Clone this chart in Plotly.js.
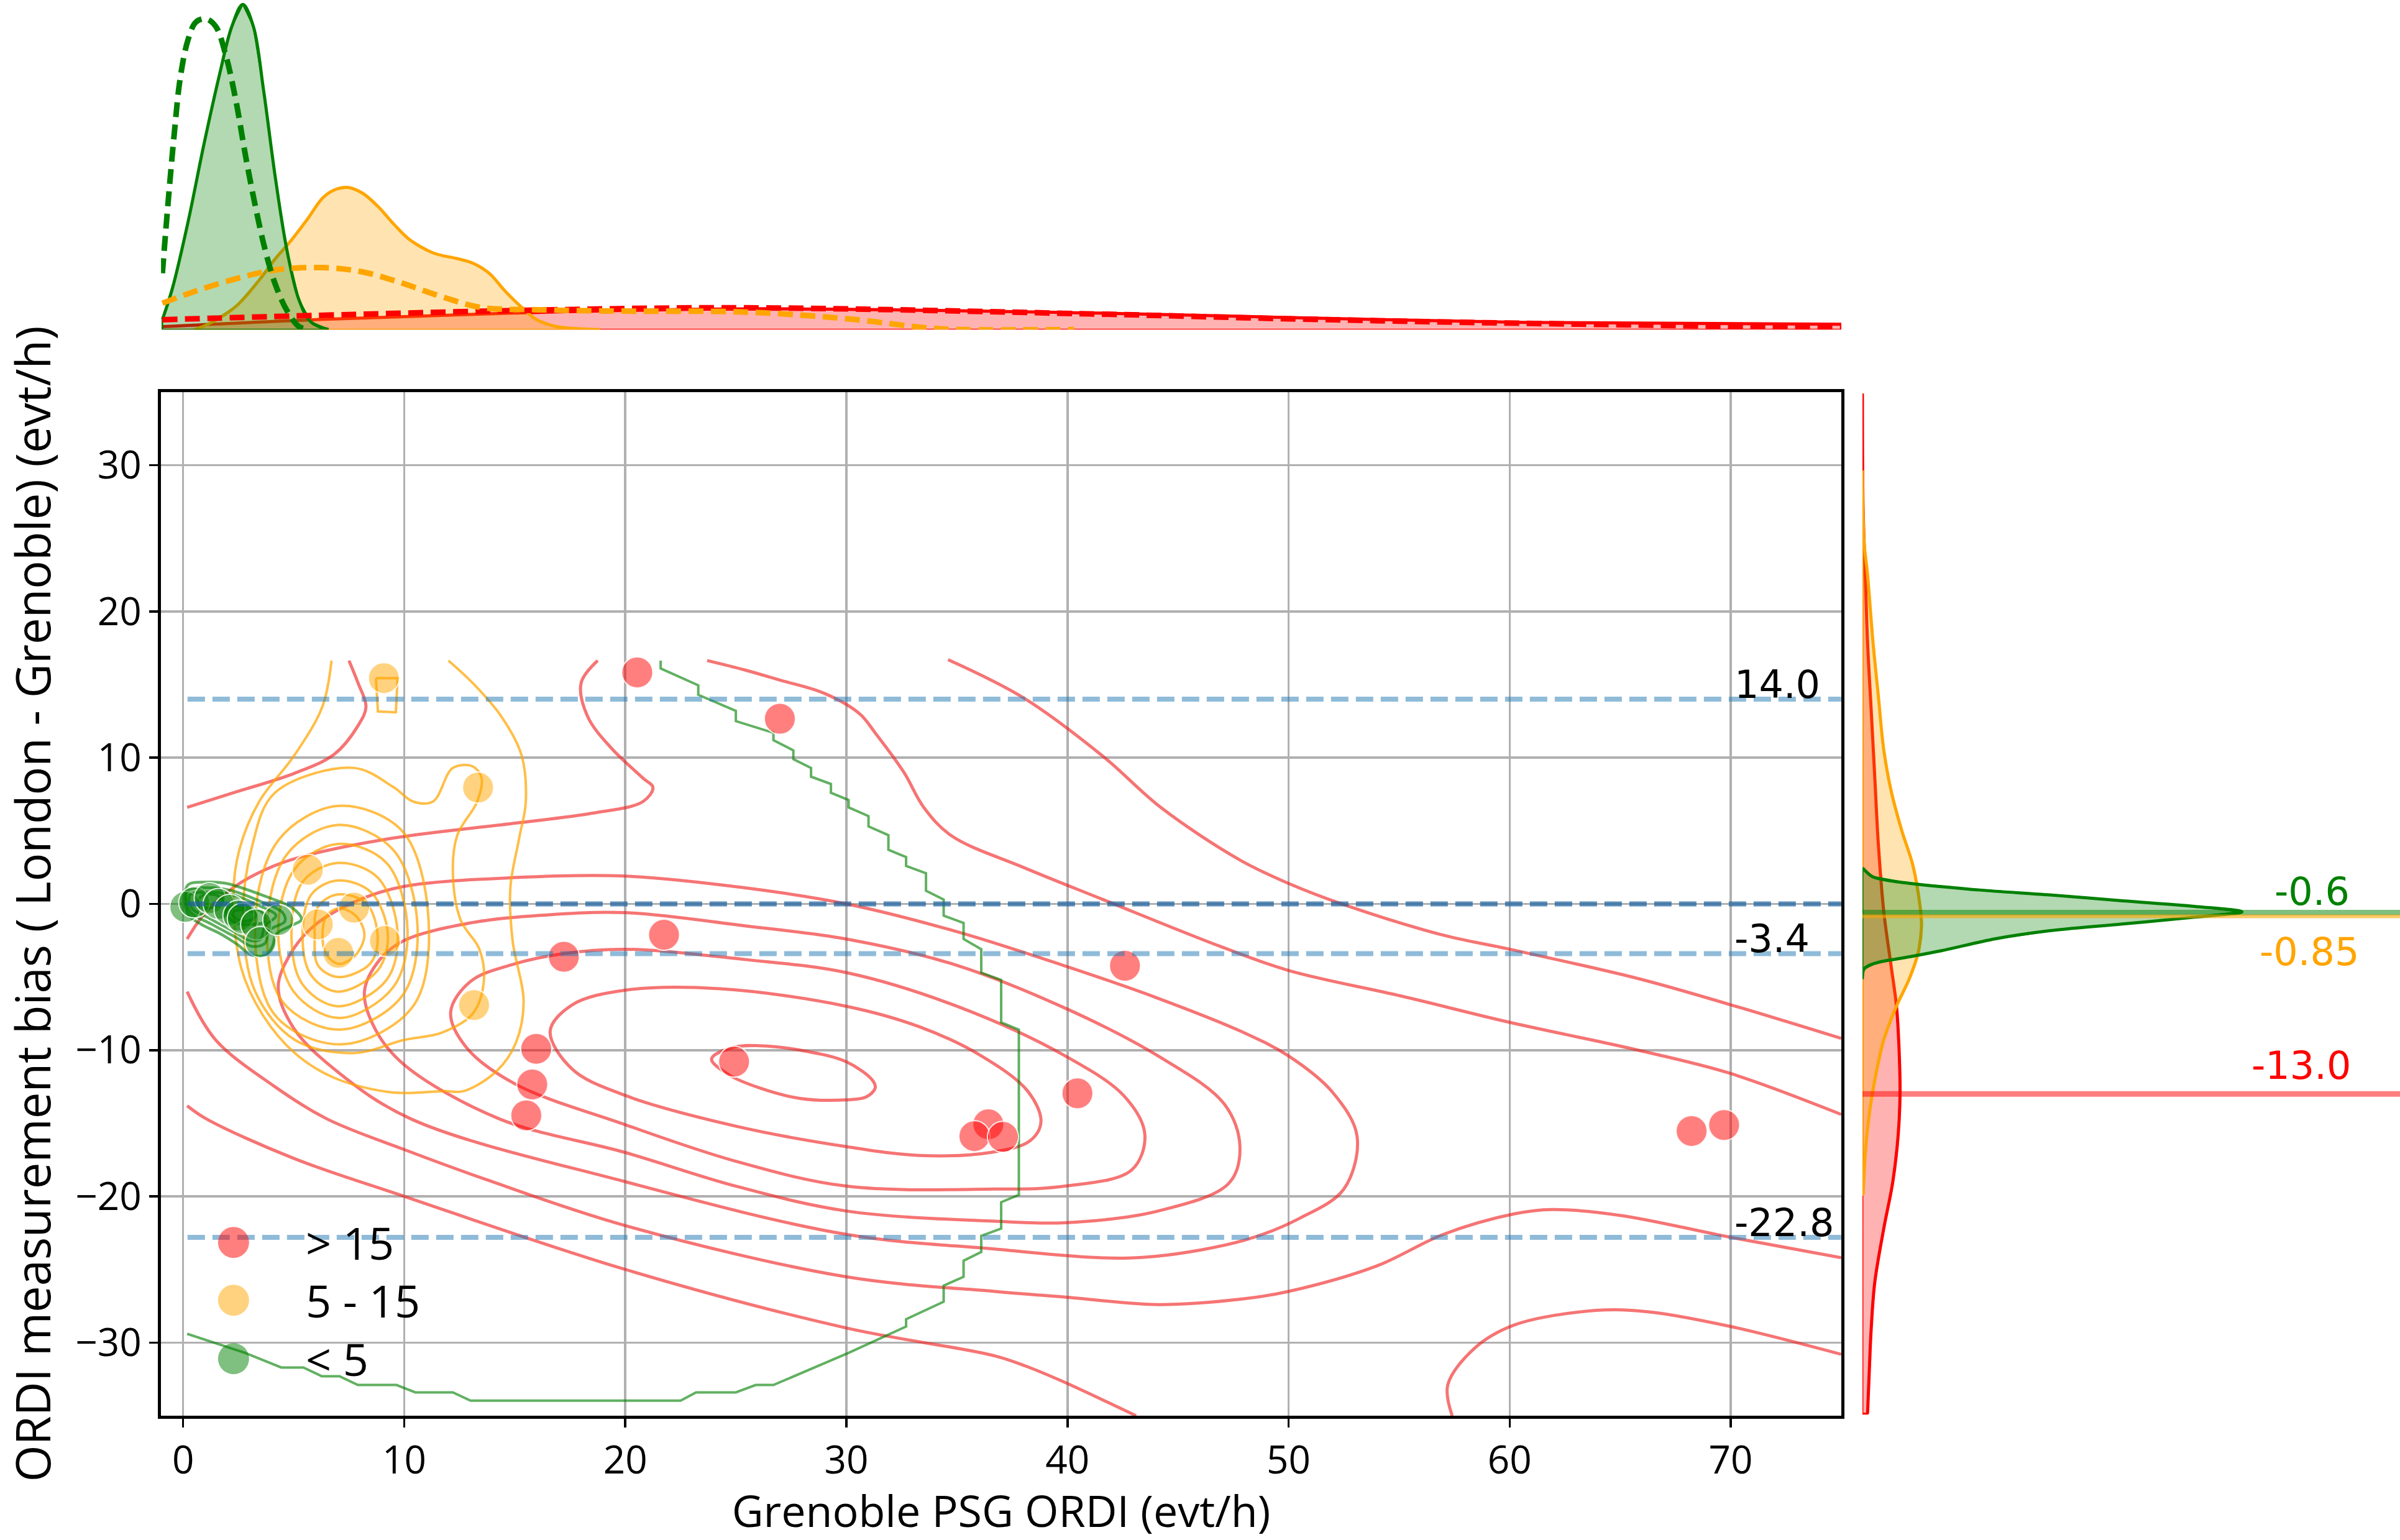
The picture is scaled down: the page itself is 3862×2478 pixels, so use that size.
<!DOCTYPE html>
<html>
<head>
<meta charset="utf-8">
<script src="https://cdn.plot.ly/plotly-3.0.1.min.js"></script>
<style>html,body{margin:0;padding:0;background:#fff;}#chart{width:3862px;height:2478px;}</style>
</head>
<body>
<div id="chart"></div>
<script>
// ---------------- Scatter data ----------------
const RED_X = [20.54, 26.99, 17.22, 21.75, 15.97, 15.79, 15.52, 24.92, 42.6, 40.45, 36.42, 35.79, 37.08, 68.23, 69.7];
const RED_Y = [15.83, 12.66, -3.61, -2.11, -9.91, -12.35, -14.46, -10.79, -4.23, -12.95, -15.07, -15.88, -15.93, -15.53, -15.12];
const ORANGE_X = [9.08, 13.34, 5.64, 7.73, 6.09, 7.02, 9.13, 13.16];
const ORANGE_Y = [15.44, 7.96, 2.34, -0.26, -1.40, -3.35, -2.53, -6.92];
const GREEN_X = [0.1, 0.5, 1.2, 1.6, 2.1, 2.5, 2.7, 3.3, 3.5, 4.3];
const GREEN_Y = [-0.2, 0.1, 0.4, 0.0, -0.4, -0.8, -1.0, -1.4, -2.6, -1.1];

const GROUP_NAMES = ['> 15', '5 - 15', '< 5'];
const X_TICKS = [0, 10, 20, 30, 40, 50, 60, 70];
const Y_TICKS = [-30, -20, -10, 0, 10, 20, 30];

// Reference (dashed) lines and their labels
const REF_VALUES = [14.0, 0.0, -3.4, -22.8];
const REF_LABELS = ['14.0', '', '-3.4', '-22.8'];

// Medians shown on the right marginal
const MEDIANS = [-0.6, -0.85, -13.0];          // green, orange, red
const MEDIAN_LABELS = ['-0.6', '-0.85', '-13.0'];

// ---------------- Red KDE contour lines (traced) ----------------
const R1_X = [23.9, 24.9, 26.1, 27.9, 30.0, 31.2, 31.3, 30.9, 30.0, 27.9, 26.1, 24.7, 23.9];
const R1_Y = [-10.6, -9.8, -9.7, -10.0, -10.8, -12.1, -12.6, -13.2, -13.4, -13.3, -12.6, -11.7, -10.6];
const R2_X = [16.6, 17.6, 20.0, 24.3, 30.0, 33.3, 36.0, 38.2, 38.8, 38.3, 36.5, 33.3, 30.0, 25.0, 20.0, 17.6, 16.6];
const R2_Y = [-8.7, -6.9, -5.9, -5.8, -7.0, -8.4, -10.3, -12.8, -14.9, -16.2, -17.0, -17.2, -16.6, -15.2, -13.1, -11.3, -8.7];
const R3_X = [12.1, 13.0, 15.0, 17.2, 20.0, 25.4, 30.0, 35.0, 39.9, 42.6, 43.5, 42.9, 39.9, 36.7, 30.0, 25.0, 20.0, 15.0, 12.8, 12.1];
const R3_Y = [-7.4, -5.3, -4.1, -3.4, -3.1, -3.8, -4.7, -7.0, -10.4, -13.2, -15.8, -18.2, -19.3, -19.5, -19.3, -17.6, -15.1, -12.3, -9.8, -7.4];
const R4_X = [8.2, 8.9, 10.0, 13.0, 16.0, 20.0, 25.4, 30.0, 35.0, 40.0, 44.1, 47.1, 47.8, 47.3, 44.1, 39.9, 36.7, 30.0, 25.0, 20.0, 14.3, 10.0, 8.7, 8.2];
const R4_Y = [-6.0, -3.8, -2.5, -1.3, -0.8, -0.6, -1.5, -2.4, -4.2, -7.2, -10.4, -13.7, -16.6, -19.1, -21.0, -21.8, -21.7, -21.0, -19.3, -17.0, -14.7, -11.0, -8.6, -6.0];
const R5_X = [4.3, 4.9, 6.0, 8.0, 10.0, 15.0, 20.0, 25.4, 30.0, 35.0, 40.0, 44.0, 47.9, 50.0, 52.0, 53.1, 52.5, 50.5, 48.0, 44.0, 41.6, 36.7, 30.0, 20.0, 10.3, 7.0, 5.0, 4.3];
const R5_Y = [-5.7, -3.3, -1.4, 0.3, 1.2, 1.8, 1.9, 1.1, 0.0, -1.9, -4.3, -6.4, -8.75, -10.4, -12.9, -15.9, -19.5, -21.5, -23.0, -24.1, -24.2, -23.6, -22.6, -19.0, -14.7, -11.5, -8.5, -5.7];
const R6A_X = [0.18, 1.0, 2.35, 3.8, 5.3, 9.5, 14.9, 18.5, 20.8, 21.25, 20.8, 19.4, 18.3, 18.0, 18.75];
const R6A_Y = [-2.4, -0.6, 1.2, 2.4, 3.2, 4.5, 5.5, 6.2, 7.0, 7.96, 8.6, 10.6, 12.8, 15.1, 16.64];
const R6B_X = [23.7, 25.4, 27.0, 29.0, 30.6, 31.3, 32.6, 33.5, 34.75, 38.0, 41.6, 46.9, 50.0, 55.1, 60.0, 65.8, 70.0, 75.0];
const R6B_Y = [16.64, 16.0, 15.3, 14.4, 13.0, 11.7, 9.0, 6.6, 4.66, 2.5, 0.3, -2.9, -4.55, -6.3, -8.1, -10.0, -11.6, -14.4];
const R6C_X = [0.18, 1.47, 4.15, 6.5, 10.0, 13.8, 20.0, 30.0, 36.7, 40.0, 44.1, 48.0, 50.0, 54.0, 57.0, 60.2, 61.9, 65.0, 70.0, 75.0];
const R6C_Y = [-6.0, -9.3, -12.5, -14.7, -16.8, -18.9, -22.0, -25.5, -26.5, -26.9, -27.4, -27.0, -26.5, -24.75, -22.6, -21.2, -20.9, -21.3, -22.8, -24.2];
const R7A_X = [0.18, 2.36, 5.05, 6.84, 7.91, 8.27, 7.91, 7.5];
const R7A_Y = [6.6, 7.64, 8.94, 10.24, 12.19, 13.49, 15.11, 16.64];
const R7B_X = [34.6, 38.0, 41.6, 44.25, 47.8, 50.0, 52.4, 56.9, 60.0, 65.8, 70.0, 75.0];
const R7B_Y = [16.7, 14.1, 10.1, 6.56, 3.0, 1.4, 0.0, -2.1, -3.1, -5.1, -6.9, -9.2];
const R7C_X = [0.18, 1.05, 5.0, 10.0, 20.0, 30.0, 36.7, 38.1, 39.7, 43.1];
const R7C_Y = [-13.8, -14.7, -17.4, -20.0, -25.0, -29.0, -30.9, -31.6, -32.6, -35.0];
const R7D_X = [57.4, 57.2, 58.4, 60.2, 63.9, 66.3, 70.0, 75.0];
const R7D_Y = [-35.0, -32.9, -30.4, -28.8, -27.8, -27.9, -28.9, -30.8];

// ---------------- Orange KDE contour lines (traced) ----------------
const O1_X = [6.71, 6.3, 5.05, 3.44, 2.54, 2.27, 2.63, 3.6, 5.05, 6.84, 9.5, 11.8, 12.7, 14.2, 15.05, 15.4, 14.9, 14.8, 15.2, 15.5, 15.3, 14.4, 13.1, 12.0];
const O1_Y = [16.64, 13.5, 10.2, 7.0, 3.7, 0.5, -4.4, -7.6, -10.2, -11.9, -12.9, -12.8, -12.8, -11.4, -9.5, -6.7, -2.5, 1.1, 4.5, 7.0, 10.2, 12.8, 15.1, 16.64];
const OSQ_X = [8.72, 8.81, 9.62, 9.7, 8.72];
const OSQ_Y = [15.44, 13.16, 13.1, 15.44, 15.44];
const O2_X = [4.15, 7.7, 9.5, 10.4, 11.3, 12.2, 13.1, 13.5, 13.3, 12.4, 12.2, 12.55, 13.4, 13.6, 13.1, 11.7, 10.0, 7.7, 5.05, 3.26, 2.72, 3.08, 4.15];
const O2_Y = [7.6, 9.3, 8.0, 7.0, 7.0, 9.3, 9.4, 8.6, 7.0, 4.7, 2.2, -1.1, -3.1, -5.3, -7.5, -8.8, -9.3, -10.2, -9.3, -6.0, -1.1, 3.7, 7.6];
const O3_X = [7.0, 9.9, 11.1, 10.4, 7.2, 4.15, 3.26, 4.33, 7.0];
const O3_Y = [6.7, 5.0, -1.1, -7.0, -9.6, -7.6, -1.1, 4.4, 6.7];
const O4_X = [7.0, 9.5, 10.6, 9.9, 7.1, 4.5, 3.8, 4.7, 7.0];
const O4_Y = [5.4, 3.7, -1.5, -6.3, -8.6, -6.7, -1.5, 3.4, 5.4];
const O5_X = [7.0, 9.2, 10.15, 9.5, 7.05, 5.0, 4.3, 5.05, 7.0];
const O5_Y = [4.1, 2.8, -1.8, -5.7, -7.8, -6.0, -1.8, 2.4, 4.1];
const O6_X = [7.0, 8.8, 9.7, 9.2, 7.0, 5.4, 4.9, 5.4, 7.0];
const O6_Y = [2.8, 1.8, -1.95, -5.2, -7.0, -5.5, -2.1, 1.5, 2.8];
const O7_X = [7.0, 8.5, 9.26, 8.8, 7.0, 5.8, 5.4, 5.8, 7.0];
const O7_Y = [1.6, 0.8, -2.1, -4.55, -6.0, -4.9, -2.3, 0.65, 1.6];
const O8_X = [7.0, 8.3, 8.8, 8.45, 7.0, 6.1, 5.95, 6.1, 7.0];
const O8_Y = [0.65, 0.0, -2.3, -4.1, -5.0, -4.2, -2.3, -0.2, 0.65];
const O9_X = [7.05, 7.8, 8.2, 7.8, 7.05, 6.5, 6.3, 6.5, 7.05];
const O9_Y = [-0.3, -0.8, -2.1, -3.5, -4.1, -3.5, -2.1, -0.8, -0.3];

// ---------------- Green KDE contour lines (traced) ----------------
const G1_X = [0.2, 1.04, 1.88, 2.44, 3.75, 4.88, 5.35, 4.88, 4.22, 4.04, 3.75, 3.1, 2.44, 1.69, 0.76, 0.2, 0.2];
const G1_Y = [1.27, 1.49, 1.42, 1.2, 0.5, -0.21, -1.06, -1.49, -2.05, -2.9, -3.5, -3.5, -2.76, -2.05, -1.35, -0.64, 1.27];
const G2_X = [0.2, 1.2, 2.2, 3.6, 4.5, 4.6, 3.9, 3.7, 3.1, 2.4, 1.3, 0.3, 0.2];
const G2_Y = [0.9, 1.1, 0.9, 0.1, -0.6, -1.2, -1.8, -2.7, -2.9, -2.3, -1.4, -0.5, 0.9];
const G3_X = [0.3, 1.3, 2.3, 3.4, 4.2, 3.7, 3.5, 3.0, 2.3, 1.2, 0.4, 0.3];
const G3_Y = [0.6, 0.8, 0.6, -0.1, -0.8, -1.5, -2.4, -2.5, -1.9, -1.0, -0.3, 0.6];
const G4_X = [0.8, 1.5, 1.8, 1.2, 0.7, 0.8];
const G4_Y = [0.5, 0.6, 0.2, -0.3, -0.1, 0.5];
const G5_X = [2.0, 2.7, 3.6, 3.7, 3.1, 2.4, 2.0, 2.0];
const G5_Y = [-0.3, -0.2, -0.6, -1.2, -1.4, -1.3, -0.8, -0.3];
const G6_X = [2.2, 2.8, 3.3, 3.1, 2.5, 2.2];
const G6_Y = [-0.6, -0.4, -0.7, -1.1, -1.1, -0.6];
const GS_X = [21.6, 21.6, 23.3, 23.3, 25.0, 25.0, 26.7, 26.7, 27.6, 27.6, 28.4, 28.4, 29.3, 29.3, 30.1, 30.1, 31.0, 31.0, 31.9, 31.9, 32.7, 32.7, 33.6, 33.6, 34.4, 34.4, 35.3, 35.3, 36.1, 36.1, 37.0, 37.0, 37.8, 37.8, 37.0, 37.0, 36.1, 36.1, 35.3, 35.3, 34.4, 34.4, 32.7, 32.7, 30.1, 26.7, 25.9, 25.0, 23.2, 22.5, 13.0, 12.2, 10.5, 9.65, 7.9, 7.07, 6.27, 5.44, 4.44, 2.8, 0.18];
const GS_Y = [16.64, 16.1, 14.95, 14.3, 13.2, 12.5, 11.7, 11.2, 10.5, 9.9, 9.3, 8.7, 8.2, 7.6, 7.1, 6.6, 6.0, 5.3, 4.7, 3.7, 3.2, 2.6, 2.1, 0.9, 0.3, -0.8, -1.3, -2.4, -3.1, -4.7, -5.2, -8.1, -8.6, -19.9, -20.4, -22.2, -22.7, -23.8, -24.4, -25.5, -26.1, -27.2, -28.4, -28.9, -30.7, -32.9, -32.9, -33.4, -33.4, -33.97, -33.97, -33.4, -33.4, -32.9, -32.9, -32.3, -32.3, -31.7, -31.7, -30.7, -29.4];

// ---------------- Top marginal (x distributions) ----------------
const TOP_GREEN_X = [-0.94, -0.49, 0.22, 0.94, 1.66, 2.2, 2.7, 3.18, 3.63, 4.17, 4.70, 5.24, 5.78, 6.58];
const TOP_GREEN_H = [0.03, 0.124, 0.326, 0.562, 0.778, 0.919, 0.987, 0.919, 0.73, 0.461, 0.239, 0.09, 0.023, 0.0];
const TOP_GREEN_FIT_X = [-0.94, -0.67, -0.40, -0.13, 0.22, 0.58, 1.03, 1.48, 1.93, 2.38, 2.82, 3.27, 3.72, 4.17, 4.70, 5.24, 5.69];
const TOP_GREEN_FIT_H = [0.171, 0.394, 0.596, 0.764, 0.879, 0.933, 0.943, 0.919, 0.832, 0.697, 0.528, 0.373, 0.239, 0.137, 0.057, 0.009, 0.0];
const TOP_ORANGE_X = [0.5, 1.12, 2.38, 3.45, 4.17, 4.88, 5.6, 6.32, 6.85, 7.48, 8.11, 8.82, 9.54, 10.26, 11.33, 12.41, 13.12, 13.84, 14.56, 15.27, 15.99, 16.88, 17.78, 18.86];
const TOP_ORANGE_H = [0.0, 0.016, 0.07, 0.151, 0.215, 0.27, 0.333, 0.4, 0.424, 0.431, 0.414, 0.373, 0.319, 0.272, 0.232, 0.215, 0.201, 0.171, 0.117, 0.07, 0.03, 0.009, 0.003, 0.0];
const TOP_ORANGE_FIT_X = [-0.94, 0.58, 2.38, 4.17, 6.32, 8.11, 9.9, 11.69, 13.48, 16.0, 20.0, 25.5, 30.3, 33.5, 35.1, 40.3];
const TOP_ORANGE_FIT_H = [0.080, 0.117, 0.154, 0.181, 0.188, 0.175, 0.141, 0.100, 0.067, 0.060, 0.056, 0.053, 0.031, 0.006, 0.0, 0.0];
const TOP_RED_X = [-0.94, 5.9, 14.9, 25.5, 41.4, 51.0, 60.6, 75.0];
const TOP_RED_H = [0.009, 0.03, 0.05, 0.063, 0.050, 0.035, 0.022, 0.016];
const TOP_RED_FIT_X = [-0.94, 7.75, 16.7, 25.5, 41.4, 51.0, 60.6, 75.0];
const TOP_RED_FIT_H = [0.03, 0.046, 0.06, 0.066, 0.047, 0.031, 0.019, 0.006];

// ---------------- Right marginal (y distributions) ----------------
const RIGHT_GREEN_Y = [2.46, 2.25, 1.86, 1.44, 0.96, 0.61, 0.21, -0.17, -0.54, -0.91, -1.37, -1.83, -2.38, -3.2, -3.67, -4.04, -4.45, -5.14];
const RIGHT_GREEN_D = [0, 0.006, 0.019, 0.08, 0.215, 0.349, 0.484, 0.618, 0.706, 0.618, 0.484, 0.349, 0.248, 0.147, 0.08, 0.025, 0.003, 0];
const RIGHT_ORANGE_Y = [29.64, 24.8, 22.5, 17.9, 14.2, 10.52, 7.75, 4.99, 2.68, -0.08, -1.46, -3.3, -5.14, -6.99, -9.29, -12.06, -14.36, -16.67, -19.89];
const RIGHT_ORANGE_D = [0, 0.003, 0.0096, 0.0197, 0.0297, 0.0398, 0.0533, 0.0734, 0.0936, 0.107, 0.110, 0.104, 0.087, 0.0634, 0.0398, 0.023, 0.0129, 0.0062, 0.0013];
const RIGHT_RED_Y = [34.9, 27.1, 22.5, 17.9, 13.28, 8.68, 4.07, -0.54, -4.22, -6.99, -9.75, -12.98, -15.74, -18.97, -22.19, -25.88, -29.1, -31.87, -34.86];
const RIGHT_RED_D = [0, 0.0013, 0.0054, 0.0096, 0.0163, 0.023, 0.0297, 0.0398, 0.0533, 0.0634, 0.068, 0.07, 0.0667, 0.0567, 0.0398, 0.023, 0.0163, 0.0129, 0.0096];

// ---------------- Styles ----------------
const C_RED_LINE = 'rgba(240,30,30,0.62)';
const C_ORANGE_LINE = 'rgba(255,165,0,0.72)';
const C_GREEN_LINE = 'rgba(0,128,0,0.62)';
const FONT = 'Open Sans, Noto Sans, sans-serif';
const FONT_NUM = 'DejaVu Sans, sans-serif';

const traces = [];
function contour(xs, ys, color, shape, width) {
  traces.push({type: 'scatter', mode: 'lines', x: xs, y: ys, xaxis: 'x', yaxis: 'y',
    line: {color: color, width: width || 4.5, shape: shape || 'spline', smoothing: 1},
    hoverinfo: 'skip', showlegend: false});
}
[[R1_X,R1_Y],[R2_X,R2_Y],[R3_X,R3_Y],[R4_X,R4_Y],[R5_X,R5_Y],[R6A_X,R6A_Y],[R6B_X,R6B_Y],[R6C_X,R6C_Y],
 [R7A_X,R7A_Y],[R7B_X,R7B_Y],[R7C_X,R7C_Y],[R7D_X,R7D_Y]].forEach(p => contour(p[0], p[1], C_RED_LINE, 'spline', 5));
[[O1_X,O1_Y],[O2_X,O2_Y],[O3_X,O3_Y],[O4_X,O4_Y],[O5_X,O5_Y],[O6_X,O6_Y],[O7_X,O7_Y],[O8_X,O8_Y],[O9_X,O9_Y]]
  .forEach(p => contour(p[0], p[1], C_ORANGE_LINE, 'spline', 4));
contour(OSQ_X, OSQ_Y, C_ORANGE_LINE, 'linear', 4);
[[G1_X,G1_Y],[G2_X,G2_Y],[G3_X,G3_Y],[G4_X,G4_Y],[G5_X,G5_Y],[G6_X,G6_Y]].forEach(p => contour(p[0], p[1], C_GREEN_LINE, 'spline', 4.5));
contour(GS_X, GS_Y, C_GREEN_LINE, 'linear', 4);

// scatter points
const GROUPS = [
  {x: RED_X, y: RED_Y, color: 'rgba(255,0,0,0.5)'},
  {x: ORANGE_X, y: ORANGE_Y, color: 'rgba(255,165,0,0.5)'},
  {x: GREEN_X, y: GREEN_Y, color: 'rgba(0,128,0,0.5)'}
];
GROUPS.forEach((g, i) => {
  traces.push({type: 'scatter', mode: 'markers', name: GROUP_NAMES[i], x: g.x, y: g.y, xaxis: 'x', yaxis: 'y',
    marker: {color: g.color, size: 50, line: {color: 'rgba(255,255,255,0.85)', width: 2}}, showlegend: false});
});

// top marginal
function topCurve(xs, hs, lineColor, fillColor, dashed) {
  if (fillColor) {
    traces.push({type: 'scatter', mode: 'lines', xaxis: 'x2', yaxis: 'y2',
      x: xs.concat([xs[xs.length - 1], xs[0], xs[0]]), y: hs.concat([0, 0, hs[0]]),
      fill: 'toself', fillcolor: fillColor, line: {color: lineColor, width: 2.5}, hoverinfo: 'skip', showlegend: false});
  }
  traces.push({type: 'scatter', mode: 'lines', xaxis: 'x2', yaxis: 'y2', x: xs, y: hs,
    line: {color: lineColor, width: dashed ? 9 : 5, shape: 'spline', dash: dashed ? '24px,12px' : 'solid'},
    hoverinfo: 'skip', showlegend: false});
}
topCurve(TOP_RED_X, TOP_RED_H, 'red', 'rgba(255,0,0,0.3)', false);
topCurve(TOP_ORANGE_X, TOP_ORANGE_H, 'orange', 'rgba(255,165,0,0.3)', false);
topCurve(TOP_GREEN_X, TOP_GREEN_H, 'green', 'rgba(0,128,0,0.3)', false);
topCurve(TOP_RED_FIT_X, TOP_RED_FIT_H, 'red', null, true);
topCurve(TOP_ORANGE_FIT_X, TOP_ORANGE_FIT_H, 'orange', null, true);
topCurve(TOP_GREEN_FIT_X, TOP_GREEN_FIT_H, 'green', null, true);

// right marginal
function rightCurve(ys, ds, lineColor, fillColor) {
  traces.push({type: 'scatter', mode: 'lines', xaxis: 'x3', yaxis: 'y3',
    x: ds.concat([0, 0, ds[0]]), y: ys.concat([ys[ys.length - 1], ys[0], ys[0]]),
    fill: 'toself', fillcolor: fillColor, line: {color: lineColor, width: 3}, hoverinfo: 'skip', showlegend: false});
  traces.push({type: 'scatter', mode: 'lines', xaxis: 'x3', yaxis: 'y3', x: ds, y: ys,
    line: {color: lineColor, width: 5, shape: 'spline'}, hoverinfo: 'skip', showlegend: false});
}
rightCurve(RIGHT_RED_Y, RIGHT_RED_D, 'red', 'rgba(255,0,0,0.3)');
rightCurve(RIGHT_ORANGE_Y, RIGHT_ORANGE_D, 'orange', 'rgba(255,165,0,0.3)');
rightCurve(RIGHT_GREEN_Y, RIGHT_GREEN_D, 'green', 'rgba(0,128,0,0.3)');

// ---------------- Shapes & annotations ----------------
const shapes = [];
const annotations = [];
REF_VALUES.forEach((v, i) => {
  shapes.push({type: 'line', xref: 'x', yref: 'y', x0: 0.2, x1: 75, y0: v, y1: v, layer: 'above',
    line: {color: v === 0 ? 'rgba(31,100,160,0.72)' : 'rgba(31,119,180,0.5)', width: 8, dash: '28px,12px'}});
  if (REF_LABELS[i]) {
    annotations.push({xref: 'x', yref: 'y', x: 70.1, y: v, text: REF_LABELS[i], showarrow: false,
      xanchor: 'left', yanchor: 'bottom', yshift: -15, font: {family: FONT_NUM, size: 62, color: 'black'}});
  }
});
const MEDIAN_COLORS = ['rgba(0,128,0,0.5)', 'rgba(255,165,0,0.6)', 'rgba(255,0,0,0.5)'];
const MEDIAN_TEXT_COLORS = ['green', 'orange', 'red'];
const MEDIAN_WIDTHS = [9, 6, 9];
const MEDIAN_TEXT_X = [0.836, 0.831, 0.816];
const MEDIAN_ANCHOR = ['bottom', 'top', 'bottom'];
const MEDIAN_SHIFT = [-4, -19, 7];
MEDIANS.forEach((m, i) => {
  shapes.push({type: 'line', xref: 'x3', yref: 'y3', x0: 0, x1: 1, y0: m, y1: m, layer: 'above',
    line: {color: MEDIAN_COLORS[i], width: MEDIAN_WIDTHS[i]}});
  annotations.push({xref: 'x3', yref: 'y3', x: MEDIAN_TEXT_X[i], y: m, text: MEDIAN_LABELS[i], showarrow: false,
    xanchor: 'center', yanchor: MEDIAN_ANCHOR[i], yshift: MEDIAN_SHIFT[i],
    font: {family: FONT_NUM, size: 62, color: MEDIAN_TEXT_COLORS[i]}});
});

// legend (custom, drawn inside the axes like the original)
const LEGEND_Y = [-23.15, -27.1, -31.1];
const LEGEND_TEXT = ['&gt; 15', '5 - 15', '&lt; 5'];
const RX = 25 / 35.58, RY = 25 / 23.54;
GROUPS.forEach((g, i) => {
  shapes.push({type: 'circle', xref: 'x', yref: 'y', x0: 2.28 - RX, x1: 2.28 + RX,
    y0: LEGEND_Y[i] - RY, y1: LEGEND_Y[i] + RY, fillcolor: g.color, line: {width: 0}, layer: 'above'});
  annotations.push({xref: 'x', yref: 'y', x: 5.5, y: LEGEND_Y[i], text: LEGEND_TEXT[i], showarrow: false,
    xanchor: 'left', yanchor: 'middle', font: {family: FONT, size: 72, color: 'black'}});
});

const axisCommon = {
  showgrid: true, gridcolor: '#b0b0b0', gridwidth: 3.5, zeroline: false,
  showline: true, linecolor: 'black', linewidth: 5, mirror: true,
  ticks: 'outside', ticklen: 14, tickwidth: 3.5, tickcolor: 'black',
  tickfont: {family: FONT, size: 62, color: 'black'}
};

const layout = {
  width: 3862, height: 2478,
  margin: {l: 0, r: 0, t: 0, b: 0},
  paper_bgcolor: 'white', plot_bgcolor: 'white',
  font: {family: FONT, color: 'black'},
  showlegend: false,
  xaxis: Object.assign({}, axisCommon, {domain: [0.0671, 0.7672], range: [-1, 75], tickvals: X_TICKS, anchor: 'y',
    title: {text: 'Grenoble PSG ORDI (evt/h)', font: {family: FONT, size: 70, color: 'black'}, standoff: 26}}),
  yaxis: Object.assign({}, axisCommon, {domain: [0.0807, 0.7454], range: [-35, 35], tickvals: Y_TICKS, anchor: 'x',
    title: {text: 'ORDI measurement bias ( London - Grenoble) (evt/h)', font: {family: FONT, size: 76, color: 'black'}, standoff: 18}}),
  xaxis2: {domain: [0.0671, 0.7672], range: [-1, 75], anchor: 'y2', visible: false},
  yaxis2: {domain: [0.786, 1.0], range: [0, 1], anchor: 'x2', visible: false},
  xaxis3: {domain: [0.776, 1.0], range: [0, 1], anchor: 'y3', visible: false},
  yaxis3: {domain: [0.0807, 0.7454], range: [-35, 35], anchor: 'x3', visible: false},
  shapes: shapes,
  annotations: annotations
};

Plotly.newPlot('chart', traces, layout, {staticPlot: true, displayModeBar: false});
</script>
</body>
</html>
